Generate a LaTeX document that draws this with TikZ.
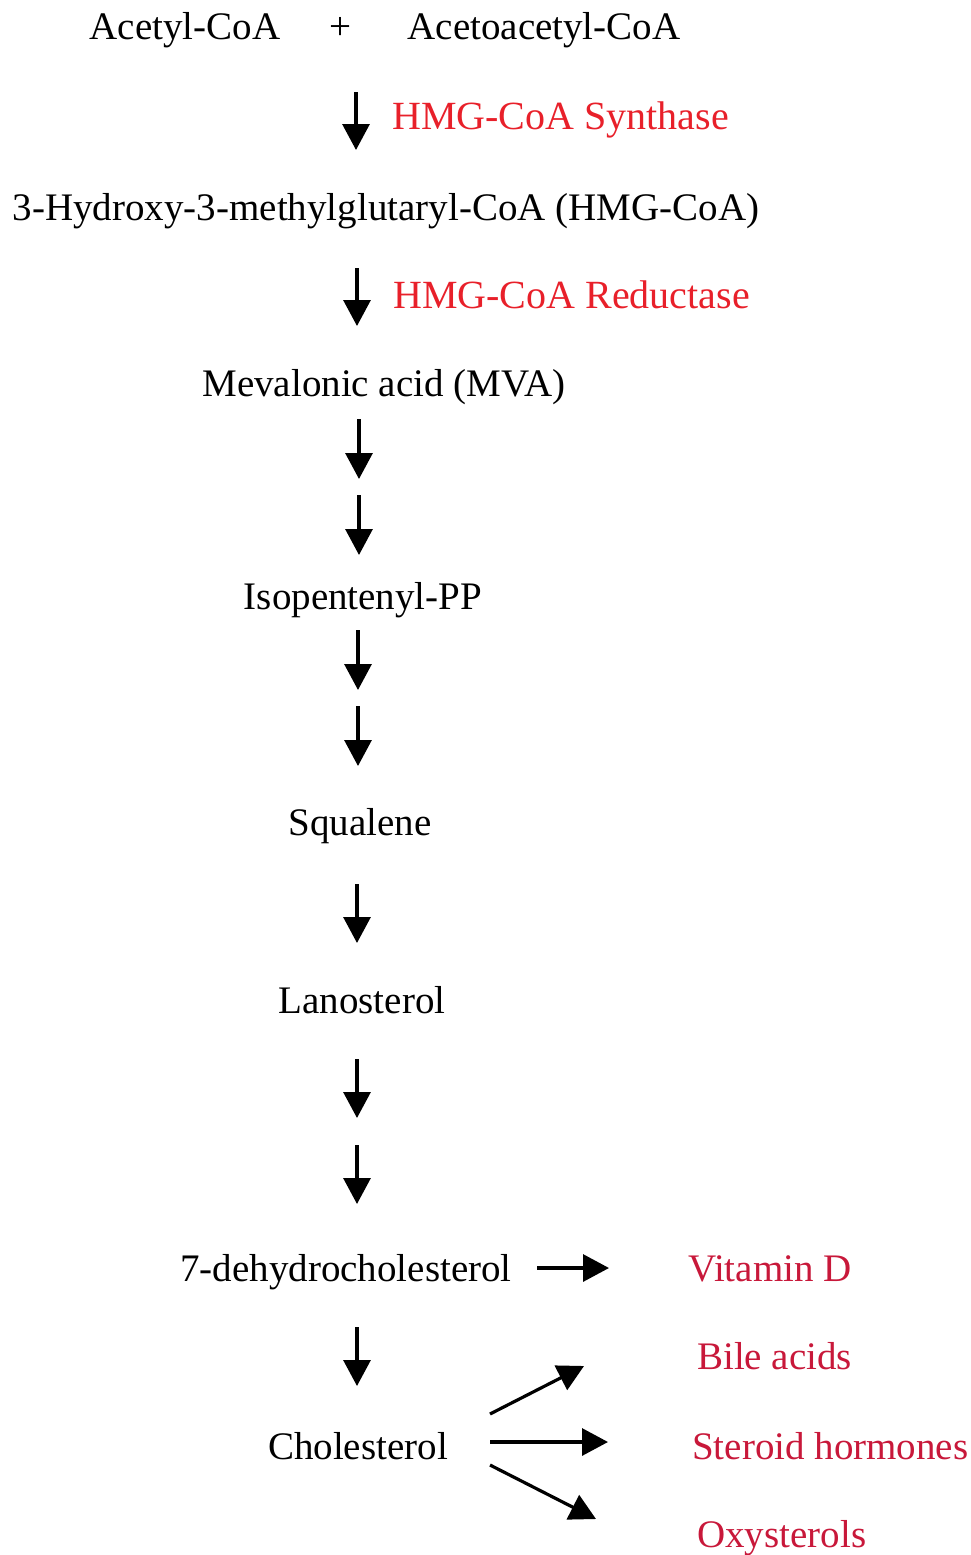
\documentclass[tikz,border=0pt]{standalone}
\usepackage{fontspec}
\setmainfont{Liberation Serif}
\usetikzlibrary{arrows.meta}
\definecolor{enzred}{HTML}{E8202A}
\definecolor{prodred}{HTML}{C8183A}
\tikzset{
  lbl/.style={inner sep=0pt, anchor=base, font=\fontsize{39}{44}\selectfont},
  enz/.style={inner sep=0pt, anchor=base west, text=enzred, font=\fontsize{40}{46}\selectfont},
  prod/.style={inner sep=0pt, anchor=base west, text=prodred, font=\fontsize{39}{44}\selectfont},
  arr/.style={line width=3.2pt, -{Triangle[length=26pt,width=27pt]}}
}
\begin{document}
\begin{tikzpicture}[x=1pt,y=-1pt]
\useasboundingbox (0,0) rectangle (971,1555);
% substrates
\node[lbl] (acetyl) at (185,40) {Acetyl-CoA};
\node[lbl] (plus) at (340,40) {+};
\node[lbl] (acetoacetyl) at (544,40) {Acetoacetyl-CoA};
% step 1
\coordinate (a1s) at (356,92); \coordinate (a1e) at (356,150);
\draw[arr] (a1s) -- (a1e);
\node[enz] (synth) at (392,129) {HMG-CoA Synthase};
\node[lbl] (hmg) at (386,220) {3-Hydroxy-3-methylglutaryl-CoA (HMG-CoA)};
% step 2
\coordinate (a2s) at (357,268); \coordinate (a2e) at (357,326);
\draw[arr] (a2s) -- (a2e);
\node[enz] (red) at (393,308) {HMG-CoA Reductase};
\node[lbl] (mva) at (384,396) {Mevalonic acid (MVA)};
% to isopentenyl
\coordinate (a3s) at (359,419); \coordinate (a3e) at (359,479);
\coordinate (a4s) at (359,495); \coordinate (a4e) at (359,555);
\draw[arr] (a3s) -- (a3e);
\draw[arr] (a4s) -- (a4e);
\node[lbl] (ipp) at (363,609) {Isopentenyl-PP};
% to squalene
\coordinate (a5s) at (358,630); \coordinate (a5e) at (358,690);
\coordinate (a6s) at (358,706); \coordinate (a6e) at (358,766);
\draw[arr] (a5s) -- (a5e);
\draw[arr] (a6s) -- (a6e);
\node[lbl] (sq) at (360,835) {Squalene};
% to lanosterol
\coordinate (a7s) at (357,884); \coordinate (a7e) at (357,943);
\draw[arr] (a7s) -- (a7e);
\node[lbl] (lan) at (362,1013) {Lanosterol};
% to 7-dehydrocholesterol
\coordinate (a8s) at (357,1059); \coordinate (a8e) at (357,1118);
\coordinate (a9s) at (357,1145); \coordinate (a9e) at (357,1204);
\draw[arr] (a8s) -- (a8e);
\draw[arr] (a9s) -- (a9e);
\node[lbl] (dhc) at (346,1281) {7-dehydrocholesterol};
% vitamin D
\coordinate (avs) at (537,1268); \coordinate (ave) at (609,1268);
\draw[arr] (avs) -- (ave);
\node[prod] (vitd) at (688,1281) {Vitamin D};
% to cholesterol
\coordinate (acs) at (357,1327); \coordinate (ace) at (357,1386);
\draw[arr] (acs) -- (ace);
\node[lbl] (chol) at (358,1459) {Cholesterol};
% products
\coordinate (b1s) at (490,1414); \coordinate (b1e) at (584,1366);
\coordinate (b2s) at (490,1442); \coordinate (b2e) at (608,1442);
\coordinate (b3s) at (490,1465); \coordinate (b3e) at (596,1519);
\draw[arr] (b1s) -- (b1e);
\draw[arr] (b2s) -- (b2e);
\draw[arr] (b3s) -- (b3e);
\node[prod] (bile) at (697,1369) {Bile acids};
\node[prod] (ster) at (692,1459) {Steroid hormones};
\node[prod] (oxy) at (697,1547) {Oxysterols};
\end{tikzpicture}
\end{document}
